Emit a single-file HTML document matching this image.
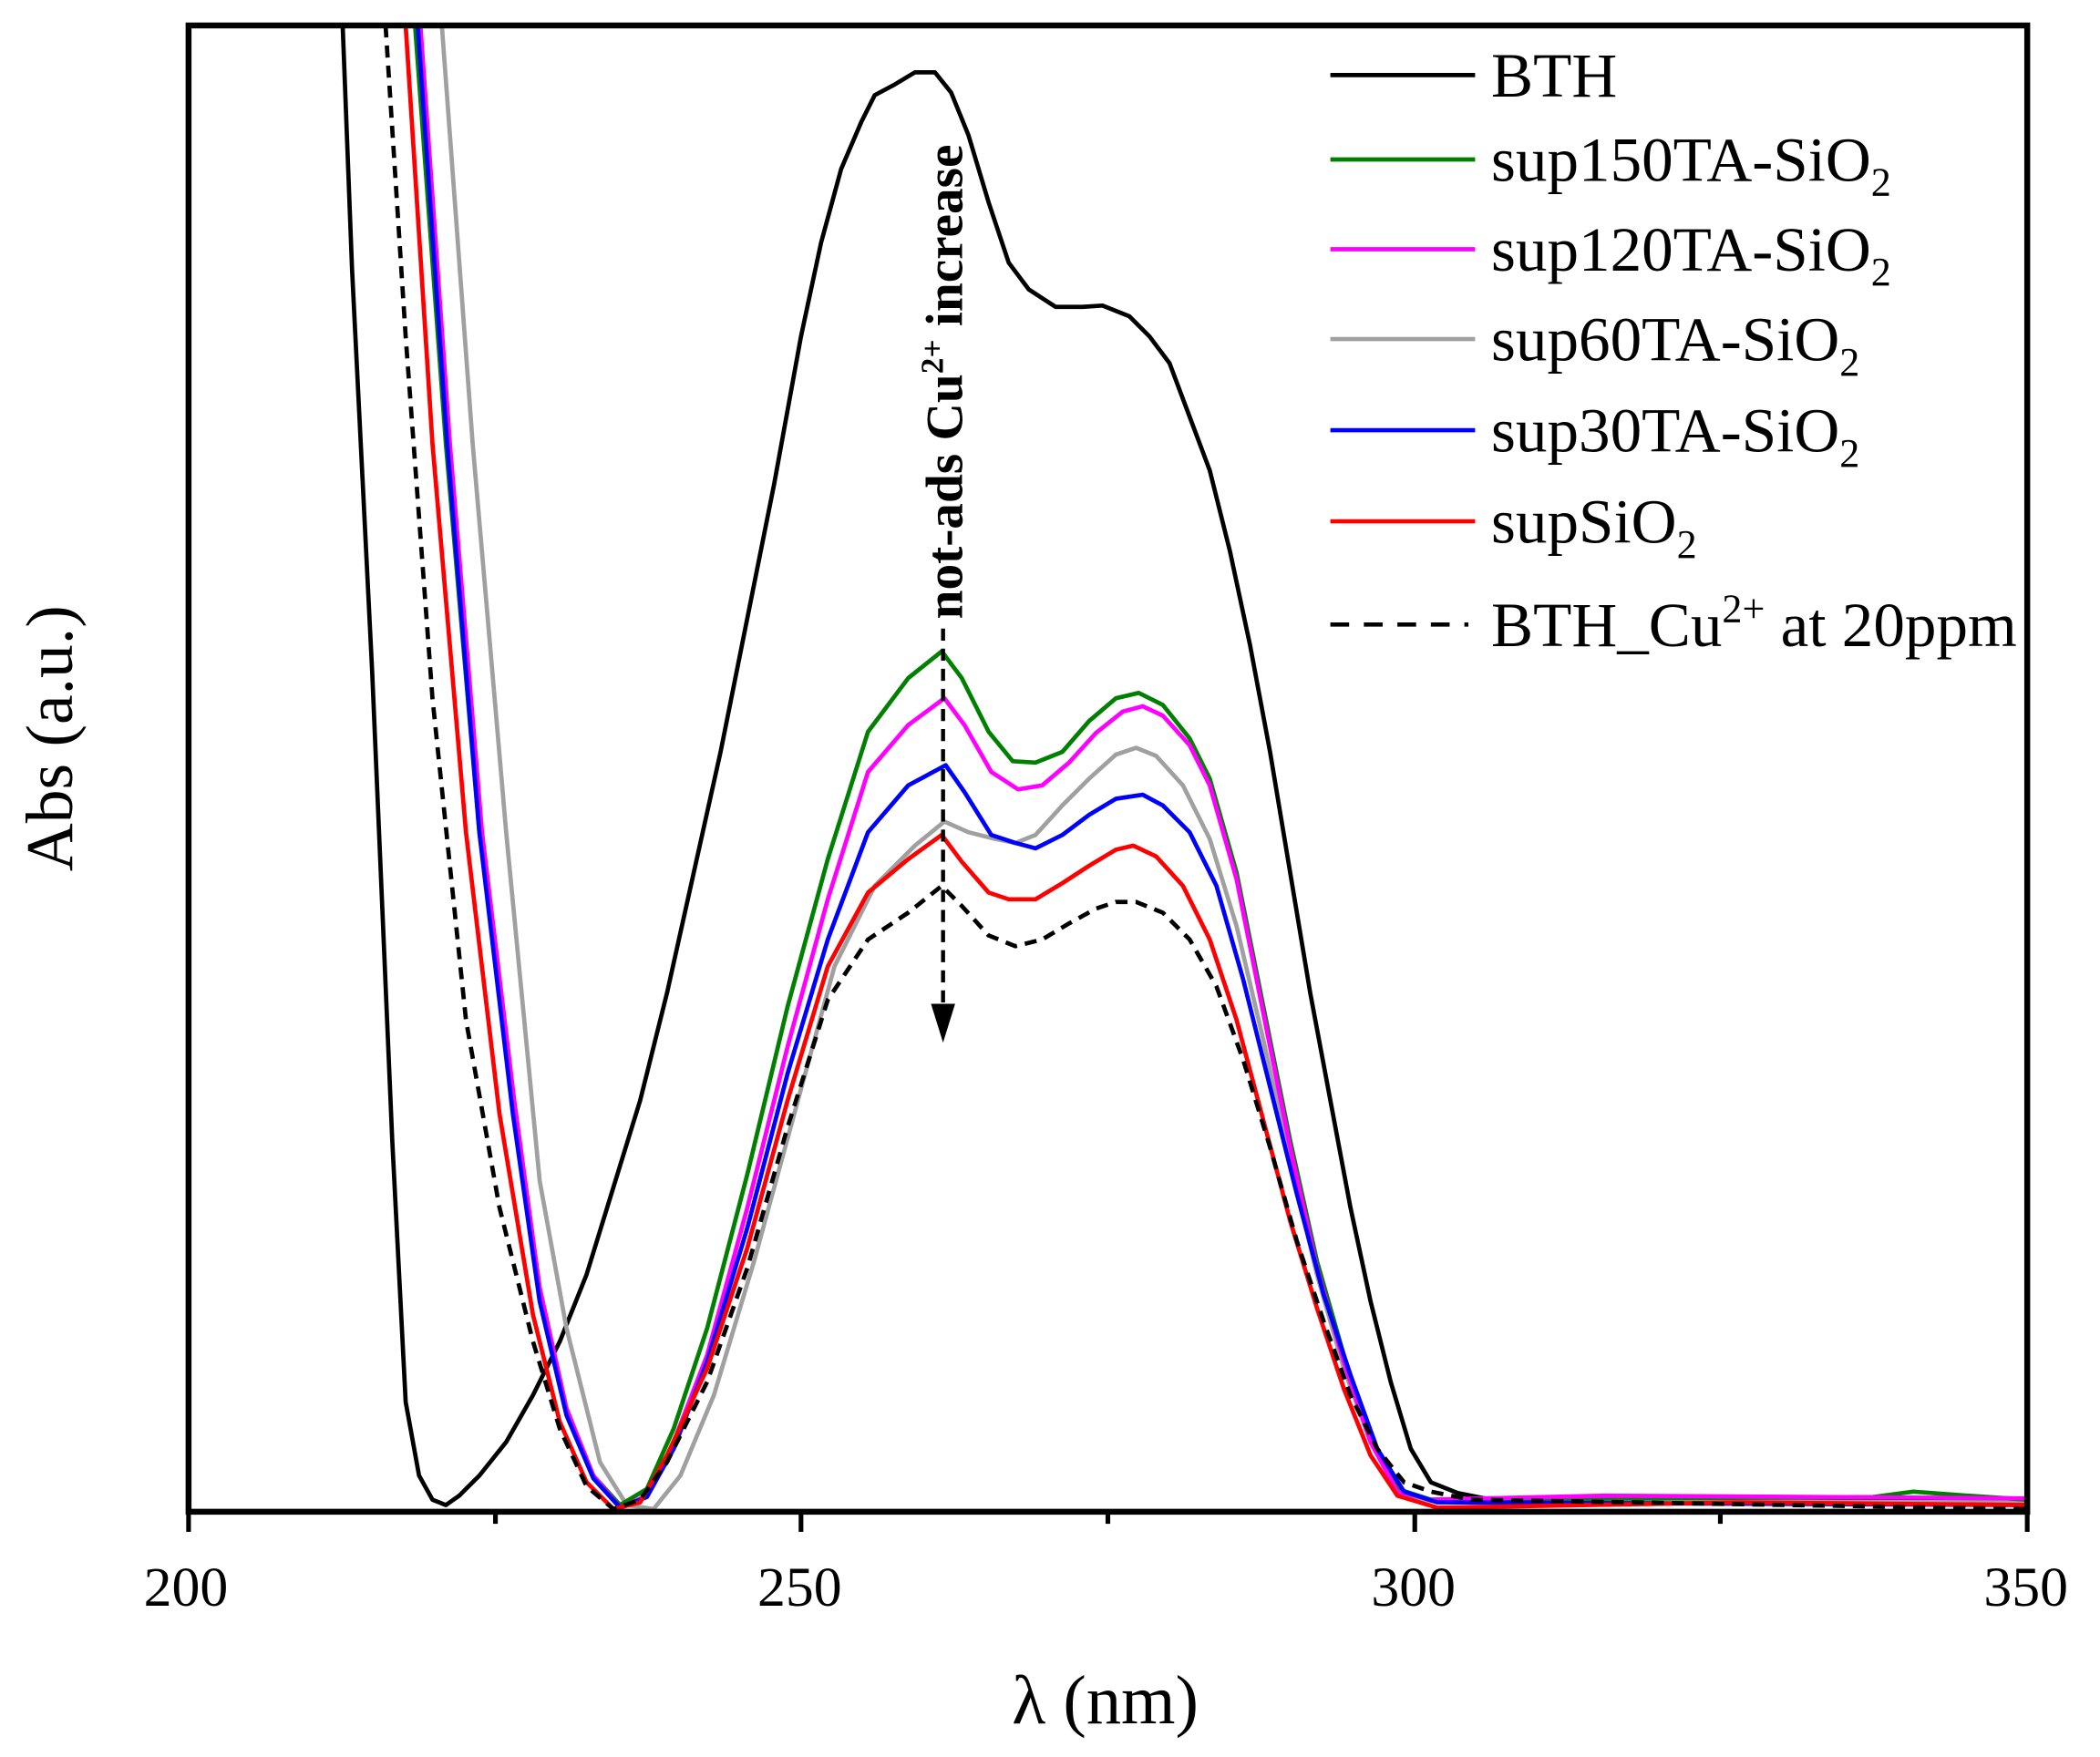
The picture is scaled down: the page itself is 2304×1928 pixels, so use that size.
<!DOCTYPE html>
<html><head><meta charset="utf-8"><style>
html,body{margin:0;padding:0;background:#fff}
svg{display:block}
text{font-family:"Liberation Serif",serif;fill:#000}
</style></head><body>
<svg width="2304" height="1928" viewBox="2.3 -1 1567 1311" preserveAspectRatio="none" xmlns="http://www.w3.org/2000/svg">
<defs><clipPath id="c"><rect x="143" y="18" width="1372" height="1109"/></clipPath></defs>
<g clip-path="url(#c)" fill="none" stroke-width="3.2" stroke-linejoin="round">
<polyline stroke="#000" points="258,18 265,200 280,500 295,850 305,1045 315,1100 325,1118 335,1122 345,1115 360,1100 380,1075 400,1040 420,1000 440,950 460,885 480,820 500,740 520,650 540,560 560,460 580,360 600,250 615,180 630,125 645,90 655,70 670,62 685,53 700,53 712,68 725,100 740,150 755,195 770,215 790,228 810,228 825,227 845,235 860,250 875,270 890,310 905,350 920,410 935,480 950,560 965,650 980,740 995,820 1010,900 1025,970 1040,1030 1055,1080 1070,1105 1090,1113 1110,1117 1200,1117 1515,1120"/>
<polyline stroke="#a0a0a0" points="332,18 355,330 380,620 405,880 425,990 450,1090 470,1122 490,1125 510,1100 535,1040 565,940 595,830 625,720 655,660 685,630 707,612 725,620 745,625 760,628 775,622 795,600 815,580 835,562 850,557 865,563 885,585 905,625 925,690 945,775 965,865 985,950 1005,1020 1025,1075 1045,1112 1070,1119 1515,1120"/>
<polyline stroke="#008000" points="312,18 335,330 360,620 385,820 405,960 425,1050 445,1100 465,1122 485,1110 505,1065 530,990 560,875 590,750 620,640 650,545 680,505 705,485 720,505 740,545 758,567 775,568 795,560 815,537 835,520 852,516 870,525 890,550 905,580 925,650 945,750 965,850 985,940 1005,1010 1025,1070 1045,1110 1070,1118 1400,1116 1430,1112 1470,1115 1515,1118"/>
<polyline stroke="#ff00ff" points="316,18 338,330 362,620 386,820 405,960 425,1050 445,1100 465,1124 485,1115 505,1075 530,1010 560,900 590,780 620,670 650,575 680,540 707,520 722,540 742,575 762,588 780,585 800,568 820,546 840,530 855,526 870,533 890,555 905,585 925,655 945,755 965,855 985,945 1005,1015 1025,1075 1045,1112 1070,1118 1200,1115 1515,1117"/>
<polyline stroke="#0000ff" points="314,18 336,330 360,620 385,830 405,970 425,1055 445,1102 465,1124 485,1116 505,1080 530,1015 560,915 590,800 620,700 650,620 680,585 708,570 722,590 742,622 760,628 775,632 795,622 815,607 835,595 855,592 870,600 890,620 910,660 930,730 950,810 970,890 990,965 1010,1025 1030,1080 1050,1112 1075,1120 1515,1122"/>
<polyline stroke="#ff0000" points="305,18 325,330 350,620 375,830 400,980 420,1060 440,1105 460,1125 480,1120 500,1085 530,1020 560,930 590,820 620,720 650,665 680,640 705,622 720,642 740,665 755,670 775,670 795,658 815,645 835,633 848,630 865,638 885,660 905,700 925,760 945,835 965,910 985,975 1005,1035 1025,1085 1045,1115 1075,1124 1300,1120 1515,1122"/>
<polyline stroke="#000" stroke-dasharray="9,6" points="290,18 305,250 325,520 350,760 375,900 400,1000 420,1065 440,1108 460,1125 480,1118 500,1090 530,1030 560,945 590,840 620,745 650,700 680,680 705,660 720,675 740,697 760,705 780,700 800,688 820,677 835,672 850,672 870,680 890,700 910,735 930,790 950,855 970,925 990,985 1010,1040 1030,1080 1050,1105 1070,1112 1100,1118 1515,1125"/>
</g>
<rect x="143" y="18" width="1372" height="1109" fill="none" stroke="#000" stroke-width="4.4"/>
<g stroke="#000" stroke-width="3.5">
<line x1="143" y1="1127" x2="143" y2="1142"/><line x1="372" y1="1127" x2="372" y2="1136"/>
<line x1="600" y1="1127" x2="600" y2="1142"/><line x1="829" y1="1127" x2="829" y2="1136"/>
<line x1="1058" y1="1127" x2="1058" y2="1142"/><line x1="1286" y1="1127" x2="1286" y2="1136"/>
<line x1="1515" y1="1127" x2="1515" y2="1142"/>
</g>
<g font-size="42" text-anchor="middle">
<text x="141" y="1197">200</text><text x="599" y="1197">250</text><text x="1057" y="1197">300</text><text x="1514" y="1197">350</text>
</g>
<text x="827" y="1285" font-size="52" text-anchor="middle">λ (nm)</text>
<text transform="translate(56,550) rotate(-90)" font-size="50" text-anchor="middle">Abs (a.u.)</text>
<line x1="706" y1="468" x2="706" y2="752" stroke="#000" stroke-width="3" stroke-dasharray="9,6"/>
<polygon points="697,748 715,748 706,777" fill="#000"/>
<text transform="translate(720,461) rotate(-90)" font-size="39" font-weight="bold">not-ads Cu<tspan font-size="24" dy="-14">2+</tspan><tspan dy="14"> increase</tspan></text>
<g stroke-width="3.2" fill="none">
<line x1="995" y1="55" x2="1103" y2="55" stroke="#000"/>
<line x1="995" y1="118" x2="1103" y2="118" stroke="#008000"/>
<line x1="995" y1="185" x2="1103" y2="185" stroke="#ff00ff"/>
<line x1="995" y1="252" x2="1103" y2="252" stroke="#a0a0a0"/>
<line x1="995" y1="320" x2="1103" y2="320" stroke="#0000ff"/>
<line x1="995" y1="388" x2="1103" y2="388" stroke="#ff0000"/>
<line x1="995" y1="465" x2="1098" y2="465" stroke="#000" stroke-dasharray="14,11"/>
</g>
<g font-size="47">
<text x="1115" y="71">BTH</text>
<text x="1115" y="134">sup150TA-SiO<tspan font-size="30" dy="11">2</tspan></text>
<text x="1115" y="201">sup120TA-SiO<tspan font-size="30" dy="11">2</tspan></text>
<text x="1115" y="268">sup60TA-SiO<tspan font-size="30" dy="11">2</tspan></text>
<text x="1115" y="336">sup30TA-SiO<tspan font-size="30" dy="11">2</tspan></text>
<text x="1115" y="404">supSiO<tspan font-size="30" dy="11">2</tspan></text>
<text x="1115" y="481">BTH_Cu<tspan font-size="30" dy="-18">2+</tspan><tspan dy="18"> at 20ppm</tspan></text>
</g>
</svg>
</body></html>
